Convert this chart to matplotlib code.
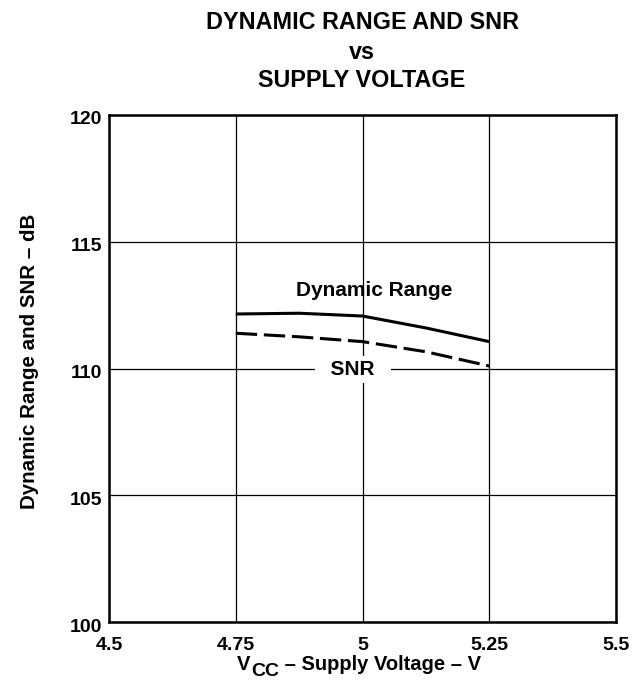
import matplotlib
matplotlib.use("Agg")
import matplotlib.pyplot as plt
import matplotlib.transforms as mtransforms

plt.rcParams["font.family"] = ["Liberation Sans", "DejaVu Sans"]
plt.rcParams["font.weight"] = "bold"

# ── Data ──────────────────────────────────────────────────────────────────────
vcc = [4.75, 4.875, 5.0, 5.125, 5.25]
dyn_range = [112.15, 112.18, 112.07, 111.6, 111.06]
snr = [111.39, 111.25, 111.06, 110.66, 110.1]

x_ticks = [4.5, 4.75, 5.0, 5.25, 5.5]
x_labels = ["4.5", "4.75", "5", "5.25", "5.5"]
y_ticks = [100, 105, 110, 115, 120]

W, H = 635, 683

# ── Plot ──────────────────────────────────────────────────────────────────────
fig = plt.figure(figsize=(W / 100, H / 100), dpi=100)
ax = fig.add_axes([109 / W, 1 - 622 / H, 507 / W, 507 / H])

ax.plot(vcc, dyn_range, color="black", lw=2.2, solid_capstyle="butt")
ax.plot(vcc, snr, color="black", lw=2.2, ls=(0, (7, 2.2)), dash_capstyle="butt")

ax.set_xlim(4.5, 5.5)
ax.set_ylim(100, 120)
ax.set_xticks(x_ticks)
ax.set_xticklabels(x_labels)
ax.set_yticks(y_ticks)
ax.tick_params(axis="x", length=0, labelsize=14, pad=11)
ax.tick_params(axis="y", length=0, labelsize=14, pad=5)
shift = mtransforms.ScaledTranslation(0, -3 / 100, fig.dpi_scale_trans)
for lab in ax.get_yticklabels():
    lab.set_transform(lab.get_transform() + shift)
for lab in ax.get_xticklabels() + ax.get_yticklabels():
    lab.set_fontweight("bold")
ax.grid(color="black", lw=0.9)
for s in ax.spines.values():
    s.set_linewidth(1.8)

ax.text(5.0237, 112.86, "Dynamic Range", ha="center", va="baseline",
        fontsize=15, fontweight="bold")
ax.text(4.981, 109.74, "  SNR  ", ha="center", va="baseline", fontsize=15,
        fontweight="bold", bbox=dict(facecolor="white", edgecolor="none", pad=3))

# y label
fig.text(30 / W, 1 - 361 / H, "Dynamic Range and SNR – dB", rotation=90,
         ha="center", va="center", fontsize=14.8, fontweight="bold")

# x label: V with a lowered full-size CC subscript
t1 = fig.text(237 / W, 1 - 670 / H, "V", ha="left", va="baseline",
              fontsize=14.5, fontweight="bold")
t2 = ax.annotate("CC", xy=(1, 0), xycoords=t1, xytext=(0.3, -4),
                 textcoords="offset points", ha="left", va="bottom",
                 fontsize=14, fontweight="bold", annotation_clip=False)
ax.annotate(" – Supply Voltage – V", xy=(1, 0), xycoords=(t2, t1),
            ha="left", va="bottom", fontsize=14.5, fontweight="bold",
            annotation_clip=False)

# title
title_lines = ["DYNAMIC RANGE AND SNR", "vs", "SUPPLY VOLTAGE"]
for line, base in zip(title_lines, [29.3, 59, 87]):
    fig.text(362 / W, 1 - base / H, line, ha="center", va="baseline",
             fontsize=16.8, fontweight="bold")

fig.savefig("out.png", dpi=100)
